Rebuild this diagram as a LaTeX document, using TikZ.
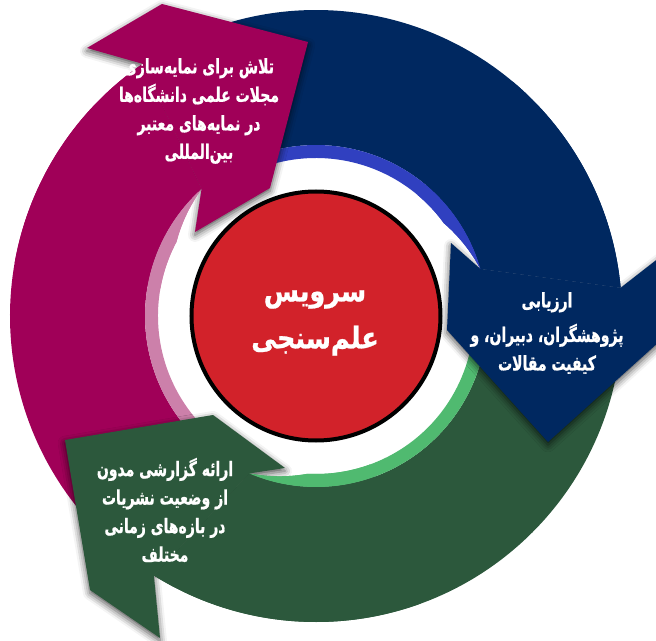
\documentclass[tikz,border=0pt]{standalone}
\usepackage{fontspec}
\usetikzlibrary{shadows.blur}
\newfontfamily\arabicfont[Script=Arabic, FakeStretch=0.7, FakeBold=0.8]{DejaVu Sans}
\newfontfamily\hubfont[Script=Arabic, FakeStretch=0.85, FakeBold=0.8]{DejaVu Sans}
\TeXXeTstate=1
\newcommand{\fa}[1]{\beginR #1\endR}
\definecolor{plumarc}{HTML}{A00058}
\definecolor{plumband}{HTML}{CC80AA}
\definecolor{navyarc}{HTML}{002860}
\definecolor{navyband}{HTML}{3040C0}
\definecolor{pinearc}{HTML}{2C583C}
\definecolor{pineband}{HTML}{50BA70}
\definecolor{hubred}{HTML}{D2222A}

\begin{document}
\begin{tikzpicture}[x=1pt, y=1pt,
		every node/.style={font=\arabicfont\bfseries\fontsize{20}{28.5}\selectfont,
			text=white, align=center},
		headshadow/.style={blur shadow={shadow xshift=0pt, shadow yshift=-3pt,
			shadow blur radius=7pt, shadow opacity=70}}]
	% Pixel grid of the 656x640 frame, origin at the hub centre.
	\def\rout{306}
	\def\rin{171}
	\def\rband{158}
	% start, restart, outer notch, inner notch, colours (all clockwise)
	\def\rings{235/170/124.5/132/plumarc/plumband,
		120/50/5.3/16/navyarc/navyband,
		360/290/238/247/pinearc/pineband}

	\path[use as bounding box] (-316,-324) rectangle (340,316);
	\clip (-316,-324) rectangle (340,316);

	% The three ring parts, each one starting under the head before it.
	\foreach \s/\t/\o/\i/\body/\band in \rings {
		\fill[\body] (\s:\rout) arc[start angle=\s, end angle=\o, radius=\rout]
			-- (\i:\rin) arc[start angle=\i, end angle=\s, radius=\rin] -- cycle;
		\fill[\band] (\s:\rin) arc[start angle=\s, end angle=\i, radius=\rin]
			-- plot[domain=\i:\i+20, samples=12] (\x:{\rin-(\rin-\rband)*(\x-\i)/20})
			arc[start angle=\i+20, end angle=\s, radius=\rband] -- cycle;
	}

	% Heads: outer notch, outer barb, outer corner, tip, inner corner,
	% inner barb, inner notch.
	\coordinate (m-No) at (124.5:\rout);
	\coordinate (m-Bo) at (-229,268);
	\coordinate (m-Co) at (-154,312);
	\coordinate (m-T) at (-8,274);
	\coordinate (m-Ci) at (-46,128);
	\coordinate (m-Bi) at (-121,84);
	\coordinate (m-Ni) at (132:\rin);

	\coordinate (b-No) at (5.3:\rout);
	\coordinate (b-Bo) at (348,62);
	\coordinate (b-Co) at (344,-25);
	\coordinate (b-T) at (232,-126);
	\coordinate (b-Ci) at (131,-14);
	\coordinate (b-Bi) at (135,73);
	\coordinate (b-Ni) at (16:\rin);

	\coordinate (g-No) at (238:\rout);
	\coordinate (g-Bo) at (-156,-322);
	\coordinate (g-Co) at (-226,-274);
	\coordinate (g-T) at (-251,-124);
	\coordinate (g-Ci) at (-103,-99);
	\coordinate (g-Bi) at (-31,-152);
	\coordinate (g-Ni) at (247:\rin);

	\foreach \h in {m,b,g}
		\path[headshadow] (\h-No) -- (\h-Bo) -- (\h-Co) -- (\h-T)
			-- (\h-Ci) -- (\h-Bi) -- (\h-Ni) -- cycle;

	% Cover each head's own shadow where it falls on its own ring.
	\foreach \s/\t/\o/\i/\body/\band in \rings {
		\fill[\body] (\t:\rout) arc[start angle=\t, end angle=\o, radius=\rout]
			-- (\i:\rin) arc[start angle=\i, end angle=\t, radius=\rin] -- cycle;
		\fill[\band] (\t:\rin) arc[start angle=\t, end angle=\i, radius=\rin]
			-- plot[domain=\i:\i+20, samples=12] (\x:{\rin-(\rin-\rband)*(\x-\i)/20})
			arc[start angle=\i+20, end angle=\t, radius=\rband] -- cycle;
	}

	\foreach \h/\body in {m/plumarc, b/navyarc, g/pinearc}
		\fill[\body] (\h-No) -- (\h-Bo) -- (\h-Co) -- (\h-T)
			-- (\h-Ci) -- (\h-Bi) -- (\h-Ni) -- cycle;

	\node[circle, draw=black, line width=4pt, fill=hubred, minimum size=249pt,
		inner sep=0pt] (hub) at (0,0) {};
	\node[font=\hubfont\bfseries\fontsize{30}{47}\selectfont] (hubtext)
		at (-1,-7) {\fa{سرویس}\\\fa{علم^^^^200cسنجی}};

	\node (plumtext) at (-117,205) {\fa{تلاش برای نمایه^^^^200cسازی}\\
		\fa{مجلات علمی دانشگاه^^^^200cها}\\\fa{در نمایه^^^^200cهای معتبر}\\
		\fa{بین^^^^200cالمللی}};
	\node (navytext) at (231,-17) {\fa{ارزیابی}\\[6pt]
		\fa{پژوهشگران، دبیران، و}\\\fa{کیفیت مقالات}};
	\node (pinetext) at (-151,-194) {\fa{ارائه گزارشی مدون}\\
		\fa{از وضعیت نشریات}\\\fa{در بازه^^^^200cهای زمانی}\\\fa{مختلف}};
\end{tikzpicture}
\end{document}
